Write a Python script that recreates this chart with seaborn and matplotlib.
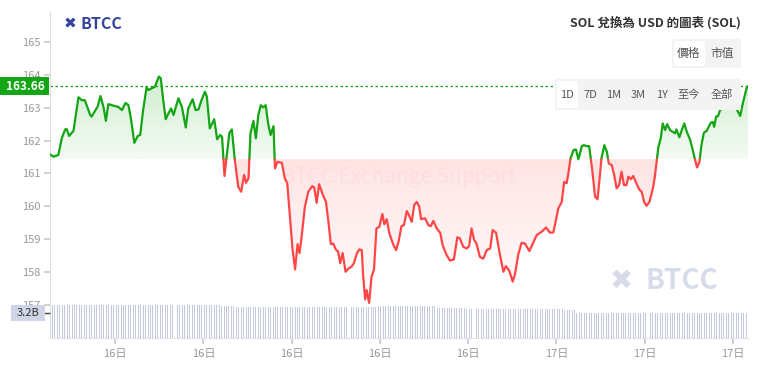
import numpy as np
import pandas as pd

import matplotlib
matplotlib.use('Agg')
import matplotlib.pyplot as plt
import matplotlib.colors as mcolors
from matplotlib.path import Path
from matplotlib.patches import Rectangle, FancyBboxPatch
import seaborn as sns

# minutes after 06:47 on the 16th
minutes = [
    0, 7, 17, 24, 31, 34, 39, 48, 58, 65,
    71, 82, 85, 92, 97, 103, 109, 114, 119, 126,
    133, 139, 147, 154, 160, 165, 172, 179, 184, 190,
    197, 201, 207, 214, 222, 226, 231, 236, 241, 247,
    252, 262, 269, 277, 282, 291, 297, 303, 309, 316,
    320, 326, 335, 341, 347, 351, 356, 360, 366, 371,
    377, 384, 390, 396, 400, 405, 409, 415, 420, 425,
    430, 435, 440, 445, 450, 456, 459, 464, 473, 479,
    484, 490, 495, 500, 505, 509, 513, 520, 527, 535,
    539, 544, 549, 556, 563, 568, 573, 578, 583, 588,
    592, 597, 603, 609, 615, 620, 626, 631, 636, 639,
    643, 646, 651, 656, 661, 666, 672, 678, 682, 687,
    692, 700, 706, 711, 717, 722, 728, 733, 738, 743,
    748, 753, 757, 765, 772, 777, 782, 789, 796, 801,
    809, 816, 824, 831, 836, 843, 850, 855, 860, 865,
    870, 877, 884, 891, 898, 903, 910, 918, 925, 930,
    937, 944, 949, 955, 962, 969, 978, 985, 993, 1003,
    1012, 1020, 1027, 1037, 1044, 1049, 1054, 1057, 1062, 1068,
    1073, 1078, 1085, 1089, 1095, 1100, 1107, 1112, 1117, 1122,
    1125, 1131, 1136, 1140, 1146, 1151, 1156, 1161, 1166, 1171,
    1176, 1180, 1185, 1190, 1195, 1202, 1207, 1212, 1217, 1223,
    1230, 1234, 1238, 1241, 1246, 1250, 1255, 1259, 1265, 1270,
    1275, 1278, 1284, 1289, 1294, 1299, 1306, 1311, 1316, 1320,
    1325, 1329, 1334, 1340, 1343, 1348, 1352, 1355, 1359, 1363,
    1367, 1373, 1381, 1389, 1397, 1404, 1408, 1414, 1421, 1424,
]

price = [
    161.58, 161.51, 161.56, 162.07, 162.34, 162.35, 162.14, 162.30, 163.32, 163.23,
    163.23, 162.78, 162.73, 162.91, 163.03, 163.36, 163.03, 162.60, 163.11, 163.08,
    163.05, 163.03, 162.93, 163.15, 163.08, 162.68, 161.93, 162.14, 162.17, 162.93,
    163.62, 163.54, 163.59, 163.64, 163.95, 163.90, 163.23, 162.65, 162.81, 162.98,
    162.78, 163.29, 163.03, 162.40, 162.98, 163.26, 162.93, 162.95, 163.23, 163.49,
    163.34, 162.37, 162.65, 162.04, 162.17, 162.12, 160.92, 161.46, 162.24, 162.34,
    161.41, 160.59, 160.44, 160.95, 160.71, 160.85, 162.22, 162.60, 162.07, 162.78,
    163.08, 163.01, 163.08, 162.52, 162.17, 162.44, 161.15, 161.35, 161.32, 160.85,
    160.70, 159.58, 158.66, 158.07, 158.84, 158.57, 159.02, 159.98, 160.44, 160.61,
    160.57, 160.10, 160.67, 160.37, 160.13, 159.52, 158.84, 158.86, 158.68, 158.61,
    158.26, 158.57, 158.00, 158.10, 158.15, 158.26, 158.56, 158.68, 158.66, 157.85,
    157.16, 157.44, 157.05, 157.85, 158.07, 159.32, 159.37, 159.76, 159.45, 159.60,
    159.19, 158.84, 158.66, 158.91, 159.39, 159.42, 159.85, 159.70, 159.52, 160.03,
    160.13, 160.00, 159.60, 159.63, 159.42, 159.39, 159.55, 159.32, 159.19, 158.81,
    158.51, 158.34, 158.38, 159.05, 159.02, 158.76, 158.71, 158.78, 159.32, 158.98,
    158.86, 158.45, 158.40, 158.66, 158.71, 159.27, 159.19, 158.51, 158.00, 158.17,
    158.03, 157.70, 157.95, 158.51, 158.88, 158.86, 158.63, 158.86, 159.12, 159.22,
    159.35, 159.19, 159.20, 159.93, 160.13, 160.74, 160.70, 160.95, 161.46, 161.71,
    161.73, 161.43, 161.83, 161.86, 161.83, 161.83, 161.00, 160.29, 160.21, 160.95,
    161.46, 161.86, 161.66, 161.30, 161.25, 160.95, 160.54, 160.64, 161.05, 160.64,
    160.64, 160.90, 160.82, 160.92, 160.74, 160.51, 160.44, 160.13, 160.01, 160.13,
    160.54, 160.90, 161.41, 161.79, 162.07, 162.52, 162.32, 162.50, 162.32, 162.27,
    162.22, 162.34, 162.10, 162.32, 162.52, 162.27, 162.02, 161.73, 161.41, 161.18,
    161.35, 161.86, 162.24, 162.30, 162.40, 162.54, 162.57, 162.42, 162.73, 162.75,
    162.93, 162.99, 163.14, 163.20, 163.05, 162.87, 162.75, 163.17, 163.59, 163.66,
]

start_hour = 6 + 47 / 60
current_price = 163.66
open_price = 161.43

price_ticks = [157, 158, 159, 160, 161, 162, 163, 164, 165]
tick_hours = [9, 12, 15, 18, 21, 24, 27, 30]

# volume, 5 minute bars, as runs of (count, level in billions)
vol_counts = [70, 6, 6, 52, 24, 12, 40, 5, 70]
vol_levels = [4.22, 4.10, 3.95, 3.87, 4.00, 3.78, 3.64, 3.50, 3.16]
vol_step = 5

range_buttons = ['1D', '7D', '1M', '3M', '1Y', '至今', '全部']
range_btn_x = [567, 590, 614, 638, 662, 689, 722]

GREEN = '#13a513'
RED = '#ff4646'
W, H = 763, 372


def fx(px):
    return px / W


def fy(py):
    return 1 - py / H


def gradient_fill(ax, x, y, base, mask, color, a_near, a_far, above):
    poly = ax.fill_between(x, y, base, where=mask, facecolor='none', edgecolor='none')
    path = Path.make_compound_path(*poly.get_paths())
    rgba = np.zeros((100, 1, 4))
    rgba[..., :3] = mcolors.to_rgb(color)
    if above:
        lo, hi = base, y[mask].max()
        rgba[:, 0, 3] = np.linspace(a_near, a_far, 100)
    else:
        lo, hi = y[mask].min(), base
        rgba[:, 0, 3] = np.linspace(a_far, a_near, 100)
    im = ax.imshow(rgba, extent=[x.min(), x.max(), lo, hi], origin='lower',
                   aspect='auto', interpolation='bilinear', zorder=1)
    im.set_clip_path(path, transform=ax.transData)


def button_box(x0, y0, x1, y1, color, z):
    box = FancyBboxPatch((fx(x0), fy(y1)), (x1 - x0) / W, (y1 - y0) / H,
                         boxstyle='round,pad=0,rounding_size=0.004',
                         transform=fig.transFigure, facecolor=color,
                         edgecolor='none', zorder=z)
    fig.add_artist(box)


sns.set_theme(style='white')
plt.rcParams['font.family'] = ['Noto Sans CJK TC', 'DejaVu Sans']

hours = start_hour + np.array(minutes) / 60
prices = np.array(price)

# split line at the opening price so it can be coloured above / below
rows = []
seg = 0
side_prev = prices[0] >= open_price
rows.append((hours[0], prices[0], seg, side_prev))
for i in range(1, len(prices)):
    side = prices[i] >= open_price
    if side != side_prev:
        t = (open_price - prices[i - 1]) / (prices[i] - prices[i - 1])
        hc = hours[i - 1] + t * (hours[i] - hours[i - 1])
        rows.append((hc, open_price, seg, side_prev))
        seg += 1
        rows.append((hc, open_price, seg, side))
        side_prev = side
    rows.append((hours[i], prices[i], seg, side))

df = pd.DataFrame(rows, columns=['hour', 'price', 'seg', 'up'])
df['side'] = np.where(df['up'], 'up', 'down')

fig = plt.figure(figsize=(W / 100, H / 100), dpi=100)
ax = fig.add_axes([fx(50), 34 / H, 698 / W, 326 / H])

xs = df['hour'].to_numpy()
ys = df['price'].to_numpy()
gradient_fill(ax, xs, ys, open_price, ys >= open_price, GREEN, 0.05, 0.20, True)
gradient_fill(ax, xs, ys, open_price, ys <= open_price, RED, 0.15, 0.01, False)

sns.lineplot(data=df, x='hour', y='price', hue='side', units='seg', estimator=None,
             sort=False, palette={'up': GREEN, 'down': RED}, legend=False,
             linewidth=1.6, ax=ax, zorder=3)

ax.axhline(current_price, color=GREEN, lw=0.9, ls=(0, (2, 2)), zorder=2)

ax.text(hours[0] + (hours[-1] - hours[0]) * 0.5, 160.9, 'BTCC Exchange Support',
        ha='center', va='center', fontsize=15, color=(0.85, 0.3, 0.3, 0.05), zorder=2)

ax.set_xlim(start_hour, hours[-1])
ax.set_ylim(155.98, 165.92)
ax.set_xlabel('')
ax.set_ylabel('')

ax.set_yticks(price_ticks)
ax.set_yticklabels([str(v) for v in price_ticks])
ax.set_xticks(tick_hours)
ax.set_xticklabels([f'{16 + int(h // 24)}日' for h in tick_hours])
ax.tick_params(axis='y', left=True, length=4, color='#cccccc', labelcolor='#999999',
               labelsize=8, pad=3)
ax.tick_params(axis='x', bottom=True, length=4, color='#cccccc', labelcolor='#999999',
               labelsize=8, pad=4)
for s in ['top', 'right']:
    ax.spines[s].set_visible(False)
ax.spines['left'].set_color('#dddddd')
ax.spines['left'].set_linewidth(0.8)
ax.spines['bottom'].set_color('#e2e2e2')
ax.spines['bottom'].set_linewidth(0.8)

# current price label on the axis
ytr = ax.get_yaxis_transform()
ax.add_patch(Rectangle((-50 / 698, current_price - 0.275), 49 / 698, 0.55,
                       transform=ytr, clip_on=False, facecolor=GREEN,
                       edgecolor='none', zorder=5))
ax.text(-25 / 698, current_price, f'{current_price:.2f}', transform=ytr,
        ha='center', va='center', color='white', fontsize=8.5,
        fontweight='bold', zorder=6)

# volume strip
vol = fig.add_axes([fx(50), 34 / H, 698 / W, 60 / H])
vol.patch.set_visible(False)
vol_values = np.repeat(vol_levels, vol_counts)
vol_hours = start_hour + np.arange(len(vol_values)) * vol_step / 60
vol.bar(vol_hours, vol_values, width=2.0 / 60, color='#c3c9df', linewidth=0)
vol.set_xlim(start_hour, hours[-1])
vol.set_ylim(0, 7.59)
vol.set_xticks([])
vol.set_yticks([3.2])
vol.set_yticklabels([''])
vol.tick_params(axis='y', left=True, length=4, width=1, color='#444444')
for s in vol.spines.values():
    s.set_visible(False)
vtr = vol.get_yaxis_transform()
vol.add_patch(Rectangle((-39 / 698, 3.2 - 1.0), 34 / 698, 2.0, transform=vtr,
                        clip_on=False, facecolor='#cfd5e6', edgecolor='none', zorder=5))
vol.text(-22 / 698, 3.2, '3.2B', transform=vtr, ha='center', va='center',
         fontsize=8, color='#333333', zorder=6)

# header, logo, buttons, watermark
fig.text(fx(741), fy(23), 'SOL 兌換為 USD 的圖表 (SOL)', ha='right', va='center',
         fontsize=9, fontweight='bold', color='#333333')
fig.text(fx(64), fy(24), '✖', ha='left', va='center', fontsize=11,
         color='#34449a', family='DejaVu Sans')
fig.text(fx(81), fy(24), 'BTCC', ha='left', va='center', fontsize=11.5,
         fontweight='bold', color='#34449a')

fig.text(fx(610), fy(281), '✖', ha='left', va='center', fontsize=20,
         color='#d8dcea', family='DejaVu Sans', zorder=1)
fig.text(fx(646), fy(281), 'BTCC', ha='left', va='center', fontsize=20,
         fontweight='bold', color='#d8dcea', zorder=1)

button_box(672, 39, 741, 68, '#f3f3f3', 5)
button_box(674, 41, 705, 66, 'white', 6)
fig.text(fx(689), fy(53), '價格', ha='center', va='center', fontsize=8.5,
         color='#555555', zorder=7)
fig.text(fx(722), fy(53), '市值', ha='center', va='center', fontsize=8.5,
         color='#555555', zorder=7)

button_box(555, 79, 741, 110, '#f3f3f3', 5)
button_box(557, 81, 578, 108, 'white', 6)
for label, px in zip(range_buttons, range_btn_x):
    fig.text(fx(px), fy(95), label, ha='center', va='center', fontsize=8,
             color='#555555', zorder=7)

fig.savefig('out.png', dpi=100)
plt.close(fig)
